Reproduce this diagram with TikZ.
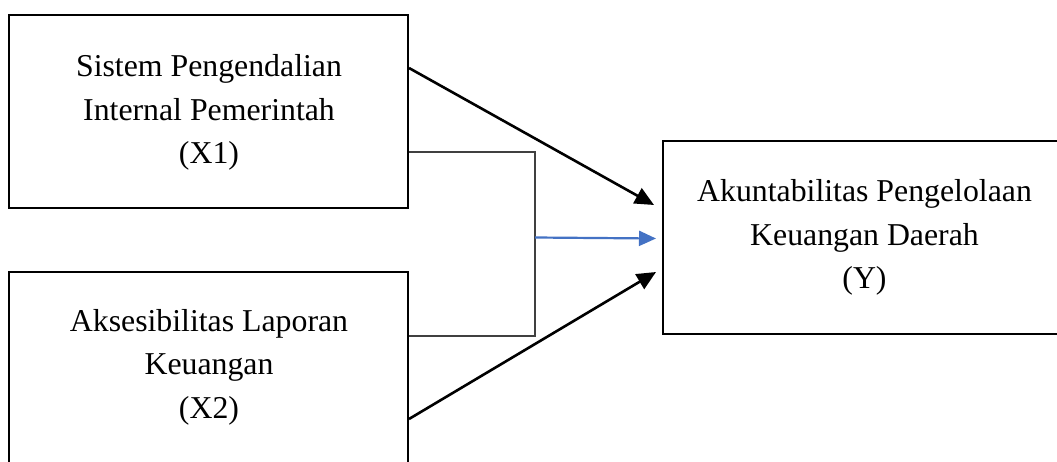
\documentclass[tikz,border=0pt]{standalone}
\usepackage{fontspec}
\setmainfont{Liberation Serif}
\usetikzlibrary{arrows.meta}
\definecolor{arrowblue}{HTML}{4472C4}
\definecolor{bracketgray}{HTML}{404040}
\begin{document}
\begin{tikzpicture}[x=1pt,y=-1pt,
  box/.style={draw,line width=2.8pt,inner sep=0pt},
  lbl/.style={align=center,font=\fontsize{31.8}{43.5}\selectfont,inner sep=0pt,anchor=base},
  conn/.style={line width=2.6pt,-{Triangle[length=19pt,width=17pt]}},
  bracket/.style={line width=1.4pt,draw=bracketgray},
  blueconn/.style={line width=2.2pt,draw=arrowblue,-{Triangle[length=17pt,width=15pt,fill=arrowblue]}}]
\useasboundingbox (0,0) rectangle (1057,462);
\clip (0,0) rectangle (1057,462);
\fill[white] (0,0) rectangle (1057,462);
% boxes
\node[box,minimum width=399pt,minimum height=193pt] (x1) at (208.5,111.5) {};
\node[box,minimum width=399pt,minimum height=208pt] (x2) at (208.5,376) {};
\node[box,minimum width=405pt,minimum height=193pt] (y) at (865.5,237.5) {};
% labels (base anchor = baseline of the last line)
\node[lbl] (t1) at (209,164) {Sistem Pengendalian\\Internal Pemerintah\\(X1)};
\node[lbl] (t2) at (209,418) {Aksesibilitas Laporan\\Keuangan\\(X2)};
\node[lbl] (t3) at (864.5,289) {Akuntabilitas Pengelolaan\\Keuangan Daerah\\(Y)};
% connector points
\coordinate (a1s) at (409,68);
\coordinate (a1e) at (654,205);
\coordinate (a2s) at (409,419);
\coordinate (a2e) at (656,272);
\coordinate (b1) at (409,152);
\coordinate (b2) at (535,152);
\coordinate (b3) at (535,336);
\coordinate (b4) at (409,336);
\coordinate (bs) at (535,237.5);
\coordinate (be) at (656,238.5);
% connectors
\draw[conn] (a1s) -- (a1e);
\draw[conn] (a2s) -- (a2e);
\draw[bracket] (b1) -- (b2) -- (b3) -- (b4);
\draw[blueconn] (bs) -- (be);
\end{tikzpicture}
\end{document}
